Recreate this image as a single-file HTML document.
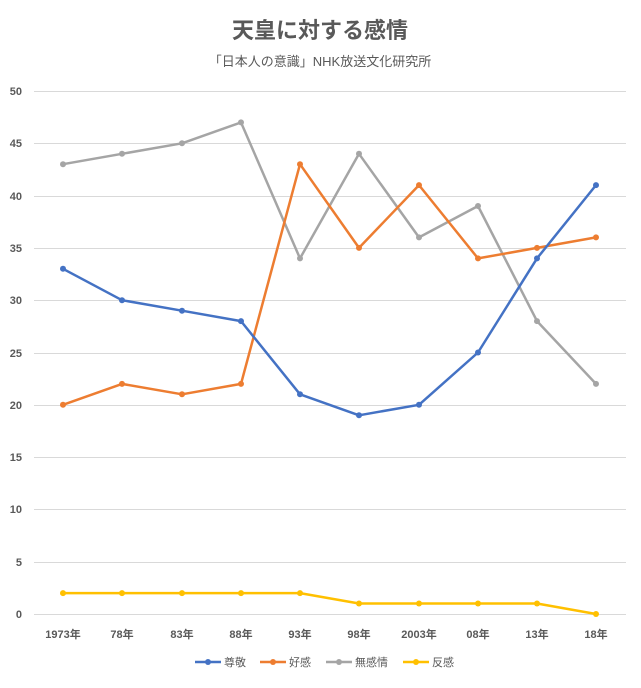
<!DOCTYPE html>
<html><head><meta charset="utf-8"><style>
body{margin:0;background:#fff;}
text{font-family:"Liberation Sans","Noto Sans CJK JP",sans-serif;}
</style></head><body>
<svg width="641" height="683" viewBox="0 0 641 683" xmlns="http://www.w3.org/2000/svg">
<rect width="641" height="683" fill="#fff"/>
<text x="320" y="38" text-anchor="middle" font-size="22" font-weight="bold" fill="#595959">天皇に対する感情</text>
<text x="320" y="66" text-anchor="middle" font-size="13" fill="#595959">「日本人の意識」NHK放送文化研究所</text>
<g stroke="#d9d9d9" stroke-width="1">
<line x1="34" x2="626" y1="91.5" y2="91.5"/>
<line x1="34" x2="626" y1="143.5" y2="143.5"/>
<line x1="34" x2="626" y1="196.5" y2="196.5"/>
<line x1="34" x2="626" y1="248.5" y2="248.5"/>
<line x1="34" x2="626" y1="300.5" y2="300.5"/>
<line x1="34" x2="626" y1="353.5" y2="353.5"/>
<line x1="34" x2="626" y1="405.5" y2="405.5"/>
<line x1="34" x2="626" y1="457.5" y2="457.5"/>
<line x1="34" x2="626" y1="509.5" y2="509.5"/>
<line x1="34" x2="626" y1="562.5" y2="562.5"/>
<line x1="34" x2="626" y1="614.5" y2="614.5"/>
</g>
<g font-size="11" fill="#595959" text-anchor="end" font-weight="bold">
<text x="22" y="95">50</text><text x="22" y="147">45</text><text x="22" y="200">40</text>
<text x="22" y="252">35</text><text x="22" y="304">30</text><text x="22" y="357">25</text>
<text x="22" y="409">20</text><text x="22" y="461">15</text><text x="22" y="513">10</text>
<text x="22" y="566">5</text><text x="22" y="618">0</text>
</g>
<g font-size="11" fill="#595959" text-anchor="middle" font-weight="bold">
<text x="63" y="638">1973年</text><text x="122" y="638">78年</text><text x="182" y="638">83年</text>
<text x="241" y="638">88年</text><text x="300" y="638">93年</text><text x="359" y="638">98年</text>
<text x="419" y="638">2003年</text><text x="478" y="638">08年</text><text x="537" y="638">13年</text>
<text x="596" y="638">18年</text>
</g>
<g fill="none" stroke-width="2.5" stroke-linejoin="round">
<polyline stroke="#a5a5a5" points="63,164.2 122,153.8 182,143.3 241,122.4 300,258.4 359,153.8 419,237.4 478,206 537,321.1 596,383.9"/>
<polyline stroke="#ed7d31" points="63,404.8 122,383.9 182,394.3 241,383.9 300,164.2 359,247.9 419,185.1 478,258.4 537,247.9 596,237.4"/>
<polyline stroke="#4472c4" points="63,268.8 122,300.2 182,310.7 241,321.1 300,394.3 359,415.3 419,404.8 478,352.5 537,258.4 596,185.1"/>
<polyline stroke="#ffc000" points="63,593.1 122,593.1 182,593.1 241,593.1 300,593.1 359,603.5 419,603.5 478,603.5 537,603.5 596,614"/>
</g>
<g fill="#a5a5a5"><circle cx="63" cy="164.2" r="3"/><circle cx="122" cy="153.8" r="3"/><circle cx="182" cy="143.3" r="3"/><circle cx="241" cy="122.4" r="3"/><circle cx="300" cy="258.4" r="3"/><circle cx="359" cy="153.8" r="3"/><circle cx="419" cy="237.4" r="3"/><circle cx="478" cy="206" r="3"/><circle cx="537" cy="321.1" r="3"/><circle cx="596" cy="383.9" r="3"/></g>
<g fill="#ed7d31"><circle cx="63" cy="404.8" r="3"/><circle cx="122" cy="383.9" r="3"/><circle cx="182" cy="394.3" r="3"/><circle cx="241" cy="383.9" r="3"/><circle cx="300" cy="164.2" r="3"/><circle cx="359" cy="247.9" r="3"/><circle cx="419" cy="185.1" r="3"/><circle cx="478" cy="258.4" r="3"/><circle cx="537" cy="247.9" r="3"/><circle cx="596" cy="237.4" r="3"/></g>
<g fill="#4472c4"><circle cx="63" cy="268.8" r="3"/><circle cx="122" cy="300.2" r="3"/><circle cx="182" cy="310.7" r="3"/><circle cx="241" cy="321.1" r="3"/><circle cx="300" cy="394.3" r="3"/><circle cx="359" cy="415.3" r="3"/><circle cx="419" cy="404.8" r="3"/><circle cx="478" cy="352.5" r="3"/><circle cx="537" cy="258.4" r="3"/><circle cx="596" cy="185.1" r="3"/></g>
<g fill="#ffc000"><circle cx="63" cy="593.1" r="3"/><circle cx="122" cy="593.1" r="3"/><circle cx="182" cy="593.1" r="3"/><circle cx="241" cy="593.1" r="3"/><circle cx="300" cy="593.1" r="3"/><circle cx="359" cy="603.5" r="3"/><circle cx="419" cy="603.5" r="3"/><circle cx="478" cy="603.5" r="3"/><circle cx="537" cy="603.5" r="3"/><circle cx="596" cy="614" r="3"/></g>
<g font-size="11" fill="#595959" stroke-width="2.5">
<line x1="195" x2="221" y1="662" y2="662" stroke="#4472c4"/><circle cx="208" cy="662" r="3" fill="#4472c4"/><text x="224" y="666">尊敬</text>
<line x1="260" x2="286" y1="662" y2="662" stroke="#ed7d31"/><circle cx="273" cy="662" r="3" fill="#ed7d31"/><text x="289" y="666">好感</text>
<line x1="326" x2="352" y1="662" y2="662" stroke="#a5a5a5"/><circle cx="339" cy="662" r="3" fill="#a5a5a5"/><text x="355" y="666">無感情</text>
<line x1="403" x2="429" y1="662" y2="662" stroke="#ffc000"/><circle cx="416" cy="662" r="3" fill="#ffc000"/><text x="432" y="666">反感</text>
</g>
</svg>
</body></html>
